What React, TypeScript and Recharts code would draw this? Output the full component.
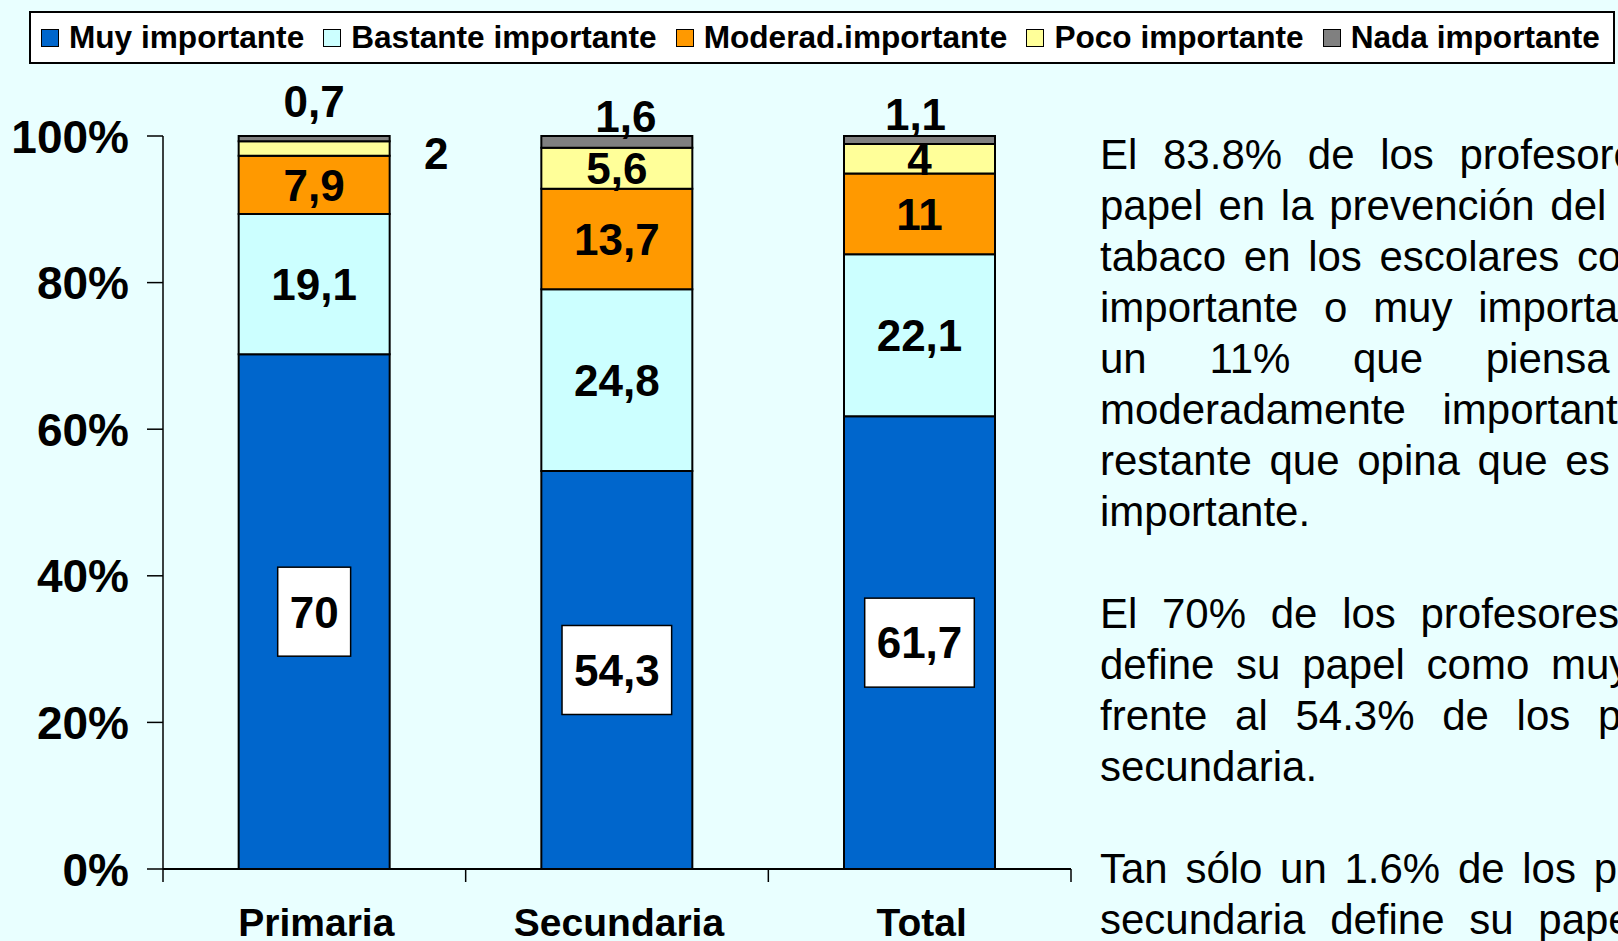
import React from "react";
import { BarChart, Bar, XAxis, YAxis, LabelList } from "recharts";

const categories = ["Primaria", "Secundaria", "Total"];
const muyImportante = [70, 54.3, 61.7];
const bastanteImportante = [19.1, 24.8, 22.1];
const moderadImportante = [7.9, 13.7, 11];
const pocoImportante = [2, 5.6, 4];
const nadaImportante = [0.7, 1.6, 1.1];
const yTicks = [0, 0.2, 0.4, 0.6, 0.8, 1];

const series = [
  { key: "muy", name: "Muy importante", values: muyImportante, color: "#0066CC" },
  { key: "bastante", name: "Bastante importante", values: bastanteImportante, color: "#CCFFFF" },
  { key: "moderad", name: "Moderad.importante", values: moderadImportante, color: "#FF9900" },
  { key: "poco", name: "Poco importante", values: pocoImportante, color: "#FFFF99" },
  { key: "nada", name: "Nada importante", values: nadaImportante, color: "#808080" },
];

const data = categories.map((name, i) => {
  const row: Record<string, string | number> = { name };
  series.forEach((s) => (row[s.key] = s.values[i]));
  return row;
});

// text block on the right, one entry per printed line (justified by hand)
const notes: [string, number][] = [
  ["El 83.8% de los profesores considera su", 14],
  ["papel en la prevención del consumo de", 4],
  ["tabaco en los escolares como bastante", 6],
  ["importante o muy importante, frente a", 14],
  ["un 11% que piensa que es", 51],
  ["moderadamente importante y el 5.2%", 25],
  ["restante que opina que es poco o nada", 6],
  ["importante.", 0],
  ["", 0],
  ["El 70% de los profesores de primaria", 13],
  ["define su papel como muy importante", 10],
  ["frente al 54.3% de los profesores de", 16],
  ["secundaria.", 0],
  ["", 0],
  ["Tan sólo un 1.6% de los profesores de", 6],
  ["secundaria define su papel como nada", 13],
];

const FONT = "'Liberation Sans', Arial, Helvetica, sans-serif";
const BG = "#E9FFFF";
const CHART_W = 1100;
const CHART_H = 941;
const MARGIN = { top: 136, right: 29, bottom: 0, left: 0 };
const Y_W = 163;
const X_H = 72;
const BAND = (CHART_W - MARGIN.left - MARGIN.right - Y_W) / categories.length;

// hand-placed label offsets, as in the original slide
const pocoShift = [{ dx: 122, dy: 5 }, { dx: 0, dy: 0 }, { dx: 0, dy: 0 }];
const nadaShift = [{ dx: 0, dy: -37 }, { dx: 9, dy: -26 }, { dx: -4, dy: -26 }];

const fmt = (v: number) => String(v).replace(".", ",");

function rectOf(p: any) {
  const vb = p.viewBox && typeof p.viewBox.width === "number" ? p.viewBox : p;
  const x = Number(vb.x);
  const w = Number(vb.width);
  let y = Number(vb.y);
  let h = Number(vb.height);
  if (h < 0) {
    y = y + h;
    h = -h;
  }
  return { x, y, w, h };
}

function makeLabel(values: number[], opts: { boxed?: boolean; shift?: { dx: number; dy: number }[] } = {}) {
  return (p: any) => {
    const { x, y, w, h } = rectOf(p);
    const idx = typeof p.index === "number" ? p.index : 0;
    const v = typeof p.index === "number" ? values[p.index] : Number(p.value);
    const s = (opts.shift && opts.shift[idx]) || { dx: 0, dy: 0 };
    const cx = x + w / 2 + s.dx;
    const cy = y + h / 2 + s.dy;
    const txt = fmt(v);
    const fs = 44;
    if (opts.boxed) {
      const tw = txt.replace(",", "").length * 0.556 * fs + (txt.includes(",") ? 0.278 * fs : 0);
      const bw = tw + 24;
      return (
        <g key={`lb-${idx}`}>
          <rect x={cx - bw / 2} y={cy - 44.5} width={bw} height={89} fill="#fff" stroke="#000" strokeWidth={1.5} />
          <text x={cx} y={cy + 0.36 * fs} textAnchor="middle" fontFamily={FONT} fontWeight="bold" fontSize={fs} fill="#000">
            {txt}
          </text>
        </g>
      );
    }
    return (
      <text key={`lb-${idx}`} x={cx} y={cy + 0.36 * fs} textAnchor="middle" fontFamily={FONT} fontWeight="bold" fontSize={fs} fill="#000">
        {txt}
      </text>
    );
  };
}

function YTick(p: any) {
  const { x, y, payload } = p;
  return (
    <text x={x} y={y + 16.5} textAnchor="end" fontFamily={FONT} fontWeight="bold" fontSize={46} fill="#000">
      {`${Math.round(payload.value * 100)}%`}
    </text>
  );
}

function XTick(p: any) {
  const { x, y, payload, index } = p;
  const left = x - BAND / 2;
  const right = x + BAND / 2;
  return (
    <g>
      <line x1={left} x2={left} y1={y} y2={y + 13} stroke="#000" strokeWidth={1.5} />
      {index === categories.length - 1 && <line x1={right} x2={right} y1={y} y2={y + 13} stroke="#000" strokeWidth={1.5} />}
      <text x={x + 2} y={y + 67} textAnchor="middle" fontFamily={FONT} fontWeight="bold" fontSize={39} fill="#000">
        {payload.value}
      </text>
    </g>
  );
}

function LegendBox() {
  return (
    <div
      style={{
        position: "absolute",
        left: 29,
        top: 11,
        width: 1586,
        height: 53,
        boxSizing: "border-box",
        border: "2px solid #000",
        background: "#fff",
        display: "flex",
        alignItems: "center",
        paddingLeft: 10,
        fontFamily: FONT,
        fontWeight: "bold",
        fontSize: 31.6,
        color: "#000",
        whiteSpace: "nowrap",
        overflow: "hidden",
      }}
    >
      {series.map((s) => (
        <div key={s.key} style={{ display: "flex", alignItems: "center", marginRight: 19 }}>
          <span
            style={{
              display: "inline-block",
              width: 16,
              height: 16,
              border: "1.5px solid #000",
              background: s.color,
              marginRight: 10,
            }}
          />
          <span>{s.name}</span>
        </div>
      ))}
    </div>
  );
}

export default function App() {
  return (
    <div
      style={{
        position: "absolute",
        left: 0,
        top: 0,
        width: 1618,
        height: 941,
        overflow: "hidden",
        background: BG,
      }}
    >
      <LegendBox />
      <div style={{ position: "absolute", left: 0, top: 0 }}>
        <BarChart width={CHART_W} height={CHART_H} data={data} margin={MARGIN} stackOffset="expand" barCategoryGap="25%">
          <XAxis
            dataKey="name"
            height={X_H}
            axisLine={{ stroke: "#000", strokeWidth: 2 }}
            tickLine={false}
            tickSize={0}
            tickMargin={0}
            tick={(p: any) => <XTick {...p} />}
            interval={0}
          />
          <YAxis
            type="number"
            domain={[0, 1]}
            ticks={yTicks}
            width={Y_W}
            axisLine={{ stroke: "#000", strokeWidth: 1.5 }}
            tickLine={{ stroke: "#000", strokeWidth: 1.5 }}
            tickSize={16}
            tickMargin={18}
            tick={(p: any) => <YTick {...p} />}
            interval={0}
          />
          <Bar dataKey="muy" stackId="a" fill="#0066CC" stroke="#000" strokeWidth={2} isAnimationActive={false}>
            <LabelList dataKey="muy" content={makeLabel(muyImportante, { boxed: true })} />
          </Bar>
          <Bar dataKey="bastante" stackId="a" fill="#CCFFFF" stroke="#000" strokeWidth={2} isAnimationActive={false}>
            <LabelList dataKey="bastante" content={makeLabel(bastanteImportante)} />
          </Bar>
          <Bar dataKey="moderad" stackId="a" fill="#FF9900" stroke="#000" strokeWidth={2} isAnimationActive={false}>
            <LabelList dataKey="moderad" content={makeLabel(moderadImportante)} />
          </Bar>
          <Bar dataKey="poco" stackId="a" fill="#FFFF99" stroke="#000" strokeWidth={2} isAnimationActive={false}>
            <LabelList dataKey="poco" content={makeLabel(pocoImportante, { shift: pocoShift })} />
          </Bar>
          <Bar dataKey="nada" stackId="a" fill="#808080" stroke="#000" strokeWidth={2} isAnimationActive={false}>
            <LabelList dataKey="nada" content={makeLabel(nadaImportante, { shift: nadaShift })} />
          </Bar>
        </BarChart>
      </div>
      <div
        style={{
          position: "absolute",
          left: 1100,
          top: 129,
          width: 518,
          overflow: "hidden",
          fontFamily: FONT,
          fontSize: 42,
          lineHeight: "51px",
          color: "#000",
        }}
      >
        {notes.map(([line, ws], i) => (
          <div key={i} style={{ whiteSpace: "nowrap", wordSpacing: ws, height: 51 }}>
            {line || "\u00a0"}
          </div>
        ))}
      </div>
    </div>
  );
}
